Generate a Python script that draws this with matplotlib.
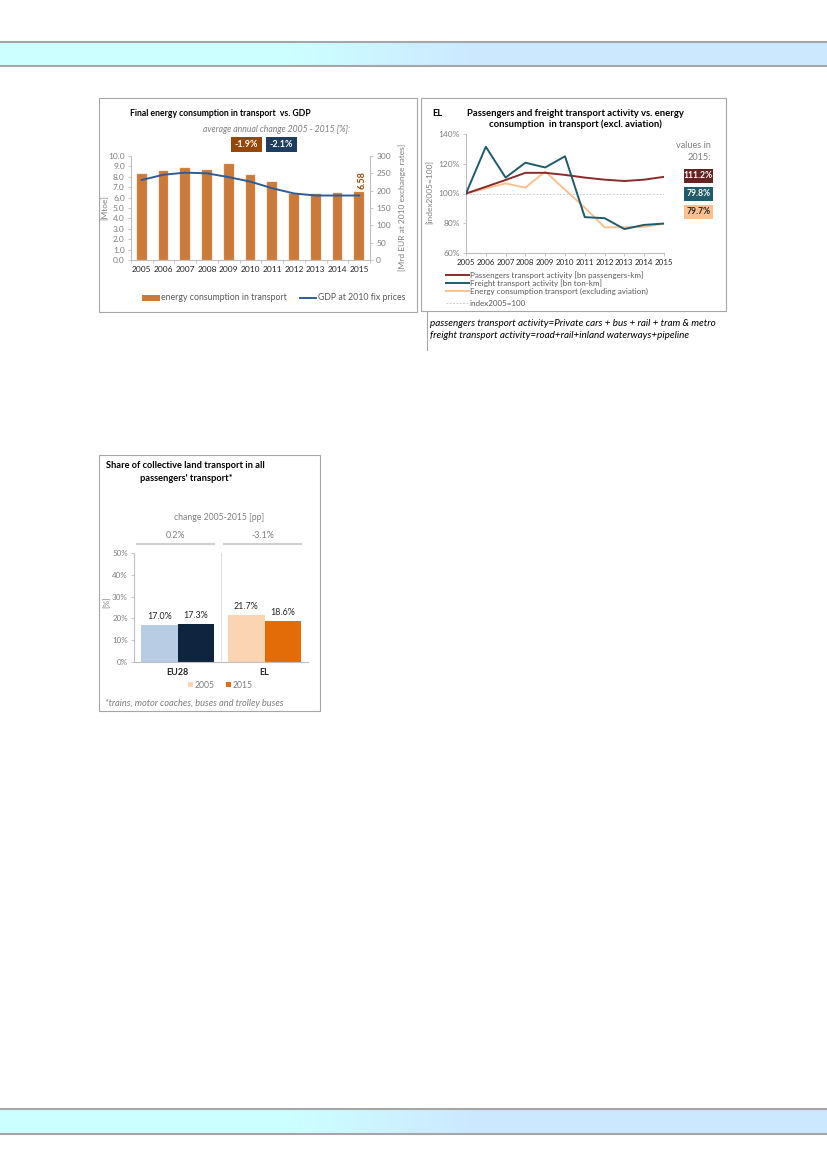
"""
Transport page: energy vs GDP, activity indices, collective transport share.
"""
import numpy as np
import matplotlib
matplotlib.use("Agg")
import matplotlib.pyplot as plt
from matplotlib.patches import Rectangle
from matplotlib.lines import Line2D
import matplotlib.transforms as mtransforms

W, H = 827, 1169
plt.rcParams["font.family"] = ["Lato", "DejaVu Sans"]

# ---- data: chart 1 (energy vs GDP)
years = list(range(2005, 2016))
energy_mtoe = [8.24, 8.56, 8.80, 8.65, 9.23, 8.17, 7.47, 6.35, 6.35, 6.44, 6.58]
gdp_bn = [231, 246, 252, 250, 239, 226, 207, 192, 186, 186, 186]
avg_change = ["-1.9%", "-2.1%"]

# ---- data: chart 2 (index 2005=100)
passengers_idx = [100, 104.5, 109.1, 113.9, 113.9, 112.5, 110.7, 109.3, 108.4, 109.3, 111.2]
freight_idx = [100, 131.4, 110.7, 120.7, 117.5, 125.0, 84.1, 83.4, 76.1, 78.9, 79.8]
energy_idx = [100, 103.4, 106.8, 103.9, 114.8, 102.5, 90.5, 77.3, 77.3, 77.6, 79.7]
values_2015 = ["111.2%", "79.8%", "79.7%"]

# ---- data: chart 3 (share of collective land transport)
regions = ["EU28", "EL"]
share_2005 = [17.0, 21.7]
share_2015 = [17.3, 18.6]
change_pp = ["0.2%", "-3.1%"]

GREY_TXT = "#7F7F7F"
GREY_LINE = "#BFBFBF"
BOX_EDGE = "#A6A6A6"
TICK_FS = 6

fig = plt.figure(figsize=(W / 100, H / 100), dpi=100)


def fx(x):
    return x / W


def fy(y):
    return 1 - y / H


def axes_px(x0, y0, x1, y1):
    return fig.add_axes([fx(x0), fy(y1), (x1 - x0) / W, (y1 - y0) / H])


def text_px(x, y, s, **kw):
    kw.setdefault("va", "center")
    return fig.text(fx(x), fy(y), s, **kw)


def rect_px(x0, y0, x1, y1, **kw):
    r = Rectangle((fx(x0), fy(y1)), (x1 - x0) / W, (y1 - y0) / H,
                  transform=fig.transFigure, **kw)
    fig.patches.append(r)
    return r


def line_px(xs, ys, **kw):
    fig.lines.append(Line2D([fx(x) for x in xs], [fy(y) for y in ys],
                            transform=fig.transFigure, **kw))


def style_axis(ax, fs=TICK_FS):
    for side in ["top", "right"]:
        ax.spines[side].set_visible(False)
    for side in ["left", "bottom"]:
        ax.spines[side].set_color(GREY_LINE)
        ax.spines[side].set_linewidth(0.8)
    ax.tick_params(colors=GREY_LINE, length=2.5, width=0.6, labelsize=fs,
                   labelcolor=GREY_TXT, pad=2)
    ax.set_facecolor("none")


# ---- page header / footer bands
band = np.ones((1, 400, 3))
left_c = np.array([0.80, 1.0, 1.0])
right_c = np.array([0.80, 0.91, 1.0])
for i in range(400):
    t = np.clip((i - 140) / 90, 0, 1)
    band[0, i] = left_c * (1 - t) + right_c * t
for y0, y1 in [(42, 66), (1109, 1134)]:
    bax = axes_px(0, y0, W, y1)
    bax.imshow(band, aspect="auto", extent=[0, 1, 0, 1])
    bax.axis("off")
    line_px([0, W], [y0, y0], color="#A6A6A6", lw=1.5)
    line_px([0, W], [y1, y1], color="#A6A6A6", lw=1.5)

# ================= chart 1 =================
rect_px(99, 98, 417, 312, fill=False, ec=BOX_EDGE, lw=0.8)
ax1 = axes_px(131, 156, 370, 260)
x = np.arange(len(years))
ax1.bar(x, energy_mtoe, width=0.45, color="#CC7A3A", edgecolor="#D9A070",
        linewidth=0.3, zorder=2)
ax1.set_xlim(-0.5, len(years) - 0.5)
ax1.set_ylim(0, 10)
ax1.set_yticks(np.arange(0, 10.01, 1.0))
ax1.set_yticklabels([f"{v:.1f}" for v in np.arange(0, 10.01, 1.0)])
ax1.set_xticks(x)
ax1.set_xticklabels([str(y) for y in years])
style_axis(ax1)
ax1.tick_params(axis="x", length=0, labelcolor="#262626", pad=4)
ax1.set_xticks(np.arange(-0.5, len(years), 1.0), minor=True)
ax1.tick_params(axis="x", which="minor", length=2.5, color=GREY_LINE, width=0.6)
ax1.text(x[-1] + 0.15, energy_mtoe[-1] + 0.25, f"{energy_mtoe[-1]:.2f}",
         rotation=90, ha="center", va="bottom", fontsize=6.5, fontweight="bold",
         color="#974706")

ax1b = ax1.twinx()
ax1b.plot(x, gdp_bn, color="#2F5C97", lw=1.4, zorder=3)
ax1b.set_ylim(0, 300)
ax1b.set_yticks(np.arange(0, 301, 50))
for side in ["top", "left", "bottom"]:
    ax1b.spines[side].set_visible(False)
ax1b.spines["right"].set_color(GREY_LINE)
ax1b.spines["right"].set_linewidth(0.8)
ax1b.tick_params(colors=GREY_LINE, length=2.5, width=0.6, labelsize=TICK_FS,
                 labelcolor=GREY_TXT, pad=2)

text_px(130, 114, "Final energy consumption in transport  vs. GDP", fontsize=6.2,
        fontweight="bold", ha="left")
text_px(277, 129, "average annual change 2005 - 2015 [%]:", fontsize=6.2,
        style="italic", color=GREY_TXT, ha="center")
for (x0, x1), label, col in zip([(231, 262), (266, 297)], avg_change,
                                ["#974706", "#1F3D5E"]):
    rect_px(x0, 137, x1, 152, color=col, lw=0)
    text_px((x0 + x1) / 2, 144.5, label, fontsize=6.5, color="white",
            ha="center", fontweight="bold")
text_px(105, 208, "[Mtoe]", fontsize=6, rotation=90, ha="center",
        color=GREY_TXT)
text_px(402, 207, "[Mrd EUR at 2010 exchange rates]", fontsize=6,
        rotation=90, ha="center", color=GREY_TXT)
rect_px(142, 295, 160, 301, color="#CC7A3A", lw=0)
text_px(161, 298, "energy consumption in transport", fontsize=6.3,
        color="#595959", ha="left")
line_px([300, 316], [298, 298], color="#2F5C97", lw=1.4)
text_px(318, 298, "GDP at 2010 fix prices", fontsize=6.3, color="#595959",
        ha="left")

# ================= chart 2 =================
rect_px(421, 98, 726, 311, fill=False, ec=BOX_EDGE, lw=0.8)
ax2 = axes_px(466, 134, 664, 253)
c_pass, c_fr, c_en = "#8B2A2A", "#215A68", "#FAC090"
ax2.axhline(100, color="#BFBFBF", lw=0.6, ls=(0, (2, 2)), zorder=1)
ax2.plot(years, energy_idx, color=c_en, lw=1.4, zorder=2)
ax2.plot(years, passengers_idx, color=c_pass, lw=1.4, zorder=3)
ax2.plot(years, freight_idx, color=c_fr, lw=1.4, zorder=4)
ax2.set_xlim(years[0], years[-1])
ax2.set_ylim(60, 140)
ax2.set_yticks(np.arange(60, 141, 20))
ax2.set_yticklabels([f"{v}%" for v in range(60, 141, 20)])
ax2.set_xticks(years)
ax2.set_xticklabels([str(y) for y in years])
style_axis(ax2)
ax2.tick_params(axis="x", labelcolor="#262626", labelsize=5.7, pad=2)

text_px(432, 113, "EL", fontsize=6.8, fontweight="bold", ha="left")
text_px(575, 113, "Passengers and freight transport activity vs. energy",
        fontsize=6.8, fontweight="bold", ha="center")
text_px(575, 124, "consumption  in transport (excl. aviation)", fontsize=6.8,
        fontweight="bold", ha="center")
text_px(430, 192, "[index2005=100]", fontsize=6, rotation=90, ha="center",
        color=GREY_TXT)
text_px(711, 145, "values in", fontsize=6.6, color=GREY_TXT, ha="right")
text_px(711, 157, "2015:", fontsize=6.6, color=GREY_TXT, ha="right")
for (y0, y1), label, bg, fg in zip([(169, 183), (187, 201), (205, 219)],
                                   values_2015,
                                   ["#632523", "#215A68", "#FAC090"],
                                   ["white", "white", "#262626"]):
    rect_px(684, y0, 713, y1, color=bg, lw=0)
    text_px(698.5, (y0 + y1) / 2, label, fontsize=6.2, fontweight="bold",
            color=fg, ha="center")
legend_rows = [
    ("Passengers transport activity [bn passengers-km]", c_pass, "-", 1.4),
    ("Freight transport activity [bn ton-km]", c_fr, "-", 1.4),
    ("Energy consumption transport (excluding aviation)", c_en, "-", 1.4),
    ("index2005=100", "#BFBFBF", (0, (2, 2)), 0.6),
]
for (label, col, ls, lw), yy in zip(legend_rows, [275, 283, 291, 303]):
    line_px([446, 469], [yy, yy], color=col, ls=ls, lw=lw)
    text_px(470, yy, label, fontsize=5.8, color="#595959", ha="left")
line_px([427, 427], [311, 350], color="#A6A6A6", lw=0.8)
text_px(430, 323, "passengers transport activity=Private cars + bus + rail + tram & metro",
        fontsize=7.1, style="italic", ha="left")
text_px(430, 335, "freight transport activity=road+rail+inland waterways+pipeline",
        fontsize=7.1, style="italic", ha="left")

# ================= chart 3 =================
rect_px(99, 455, 320, 711, fill=False, ec=BOX_EDGE, lw=0.8)
ax3 = axes_px(134, 553, 308, 662)
xr = np.arange(len(regions))
bw = 0.42
ax3.bar(xr - bw / 2, share_2005, width=bw, color=["#B8CCE4", "#FBD4B4"],
        zorder=2)
ax3.bar(xr + bw / 2, share_2015, width=bw, color=["#0F243E", "#E36C09"],
        zorder=2)
for xi, v in zip(xr - bw / 2, share_2005):
    ax3.annotate(f"{v:.1f}%", (xi, v), xytext=(0, 3), textcoords="offset points",
                 ha="center", va="bottom", fontsize=6.4, color="#262626")
for xi, v in zip(xr + bw / 2, share_2015):
    ax3.annotate(f"{v:.1f}%", (xi, v), xytext=(0, 3), textcoords="offset points",
                 ha="center", va="bottom", fontsize=6.4, color="#262626")
ax3.set_xlim(-0.5, len(regions) - 0.5)
ax3.set_ylim(0, 50)
ax3.set_yticks(np.arange(0, 51, 10))
ax3.set_yticklabels([f"{v}%" for v in range(0, 51, 10)])
ax3.set_xticks(xr)
ax3.set_xticklabels(regions)
style_axis(ax3, fs=5.8)
ax3.tick_params(axis="x", length=0, labelcolor="#262626", labelsize=6.5, pad=4)
for lbl in ax3.get_xticklabels():
    lbl.set_fontweight("bold")
ax3.axvline(0.5, color="#E0E0E0", lw=0.8, zorder=1)
trans = mtransforms.blended_transform_factory(ax3.transData, ax3.transAxes)
for xi, lab in zip(xr, change_pp):
    ax3.add_line(Line2D([xi - 0.47, xi + 0.42], [1.083, 1.083], color="#D0D0D0",
                        lw=1.5, transform=trans, clip_on=False))
    ax3.text(xi - 0.02, 1.165, lab, transform=trans, ha="center", va="center",
             fontsize=6.4, color=GREY_TXT)

text_px(185, 466, "Share of collective land transport in all", fontsize=6.7,
        fontweight="bold", ha="center")
text_px(186, 478, "passengers' transport*", fontsize=6.7, fontweight="bold",
        ha="center")
text_px(219, 517, "change 2005-2015 [pp]", fontsize=6.2, color=GREY_TXT,
        ha="center")
text_px(107, 602, "[%]", fontsize=6, rotation=90, ha="center",
        color=GREY_TXT)
rect_px(188, 682, 193, 687, color="#FBD4B4", lw=0)
text_px(195, 685, "2005", fontsize=6.2, color=GREY_TXT, ha="left")
rect_px(226, 682, 231, 687, color="#E36C09", lw=0)
text_px(233, 685, "2015", fontsize=6.2, color=GREY_TXT, ha="left")
text_px(105, 703, "*trains, motor coaches, buses and trolley buses", fontsize=6.7,
        style="italic", color=GREY_TXT, ha="left")

fig.savefig("out.png", dpi=100)
